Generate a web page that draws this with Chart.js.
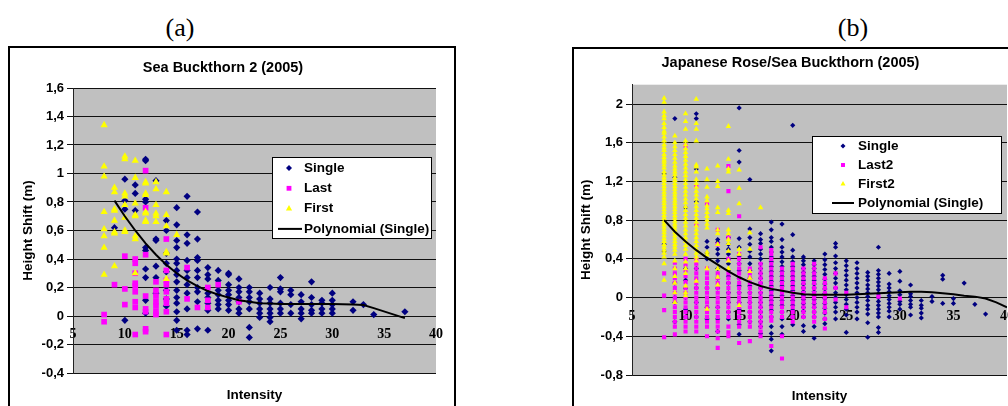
<!DOCTYPE html>
<html>
<head>
<meta charset="utf-8">
<script src="https://cdn.jsdelivr.net/npm/chart.js@4.4.1/dist/chart.umd.min.js"></script>
<style>
  html, body { margin: 0; padding: 0; background: #fff; overflow: hidden; width: 1008px; height: 406px; }
  .tag { position: absolute; top: 13px; width: 60px; text-align: center; font-family: "Liberation Serif", "Times New Roman", serif; font-size: 26px; line-height: 30px; color: #000; }
  .frame { position: absolute; border: 2px solid #000; box-sizing: border-box; }
  canvas { position: absolute; }
</style>
</head>
<body>
<div class="tag" style="left:150px">(a)</div>
<div class="tag" style="left:823px">(b)</div>
<div class="frame" style="left:8px; top:46px; width:448px; height:400px"></div>
<div class="frame" style="left:572px; top:47px; width:500px; height:400px"></div>
<canvas id="chartA" width="443" height="380" style="left:10px; top:48px"></canvas>
<canvas id="chartB" width="458" height="380" style="left:574px; top:49px"></canvas>
<script>
// ---- (a) Sea Buckthorn 2 (2005) ----
const singleAx = [9, 10, 11, 12, 13, 14, 15, 16, 17, 18, 19, 20, 21, 22, 23, 24, 25, 26, 27, 28, 29, 30, 32, 33, 34, 37];
const singleAy = [
  [0.62],
  [0.96, 0.81, 0.75, -0.03],
  [0.92, 0.86, 0.74],
  [1.10, 1.09, 0.82, 0.80, 0.48, 0.46, 0.33, 0.27, 0.11, 0.02],
  [0.95, 0.54, 0.53, 0.35, 0.27, 0.16],
  [0.67, 0.60, 0.44, 0.37, 0.31, 0.18, 0.12, 0.07],
  [0.76, 0.64, 0.53, 0.48, 0.40, 0.37, 0.32, 0.29, 0.24, 0.18, 0.13, 0.09, 0.03, -0.03, -0.10],
  [0.84, 0.57, 0.51, 0.39, 0.32, 0.27, 0.22, 0.16, 0.05, -0.10, -0.13],
  [0.73, 0.54, 0.41, 0.39, 0.32, 0.27, 0.20, 0.17, 0.10, -0.09],
  [0.34, 0.29, 0.26, 0.16, 0.13, 0.09, 0.04, -0.10],
  [0.32, 0.25, 0.18, 0.15, 0.11, 0.08, 0.05],
  [0.30, 0.29, 0.22, 0.18, 0.15, 0.11, 0.08, 0.04],
  [0.26, 0.20, 0.17, 0.13, 0.10, 0.05, 0.02],
  [0.20, 0.17, 0.13, 0.10, 0.05, -0.08, -0.15],
  [0.16, 0.12, 0.09, 0.05, 0.02, -0.01],
  [0.20, 0.12, 0.09, 0.05, 0.02, -0.01, -0.04],
  [0.27, 0.19, 0.17, 0.09, 0.05, 0.02],
  [0.18, 0.15, 0.08, 0.02],
  [0.15, 0.10, 0.05, 0.02, -0.02],
  [0.24, 0.13, 0.08, 0.04, 0.02],
  [0.11, 0.09, 0.05, 0.02],
  [0.16, 0.11, 0.08, 0.05, 0.02],
  [0.10, 0.04],
  [0.08],
  [0.01],
  [0.03]
];
const lastAx = [8, 9, 10, 11, 12, 13, 14, 16, 17, 18, 19, 21];
const lastAy = [
  [0.01, -0.04],
  [0.22],
  [0.42, 0.19, 0.08],
  [0.40, 0.37, 0.30, 0.23, 0.21, 0.17, 0.10, 0.06, -0.13],
  [1.02, 0.76, 0.43, 0.14, 0.05, 0.03, -0.09, -0.11],
  [0.24, 0.18, 0.14, 0.10, 0.07, 0.03, 0.01],
  [0.54, 0.32, 0.25, 0.22, 0.17, 0.12, 0.09, 0.03, -0.13],
  [0.34, 0.12],
  [0.06],
  [0.20, 0.11, 0.06],
  [0.22],
  [0.10]
];
const firstAx = [8, 9, 10, 11, 12, 13, 14, 15];
const firstAy = [
  [1.34, 1.05, 0.98, 0.73, 0.61, 0.56, 0.48, 0.29],
  [0.90, 0.87, 0.75, 0.74, 0.67, 0.59, 0.58, 0.35],
  [1.12, 1.10, 0.86, 0.84, 0.78, 0.69, 0.60, 0.59],
  [1.09, 0.97, 0.79, 0.71, 0.70, 0.56, 0.54, 0.30],
  [0.94, 0.93, 0.86, 0.85, 0.73, 0.72, 0.67, 0.66],
  [0.94, 0.89, 0.78, 0.72, 0.70, 0.66],
  [0.87, 0.71, 0.63, 0.45, 0.44, 0.26],
  [0.57]
];
const polyAx = [9, 10, 11, 12, 13, 14, 15, 16, 17, 18, 19, 20, 21, 22, 23, 24, 25, 26, 27, 28, 29, 30, 32, 33, 34, 37];
const polyAy = [0.81, 0.70, 0.60, 0.51, 0.43, 0.36, 0.30, 0.25, 0.21, 0.175, 0.15, 0.13, 0.11, 0.10, 0.09, 0.088, 0.085, 0.085, 0.085, 0.085, 0.085, 0.085, 0.08, 0.077, 0.055, -0.015];

// ---- (b) Japanese Rose/Sea Buckthorn (2005) ----
const singleBx = [8, 9, 10, 11, 12, 13, 14, 15, 16, 17, 18, 19, 20, 21, 22, 23, 24, 25, 26, 27, 28, 29, 30, 31, 32, 33, 34, 35, 36, 37, 38];
const singleBy = [
  [1.28, 0.55, 0.48],
  [1.85, 1.24, 0.15, 0.00, -0.05, -0.25],
  [0.93, 0.30, 0.18, 0.10, 0.00, -0.12, -0.20],
  [1.90, 1.85, 1.33, 0.99, 0.30, 0.10, -0.05, -0.20],
  [0.58, 0.52, 0.46, 0.40, 0.10, -0.10, -0.22],
  [0.60, 0.57, 0.50, 0.45, 0.38, 0.30, 0.20, 0.10, -0.10, -0.22, -0.35],
  [0.62, 0.55, 0.50, 0.45, 0.40, 0.35, 0.28, 0.22, 0.15, 0.05, -0.05, -0.15, -0.22],
  [1.96, 1.52, 1.40, 0.61, 0.52, 0.43, 0.35, 0.28, 0.20, 0.12, 0.05, -0.05, -0.12, -0.20, -0.28, -0.38],
  [1.22, 0.71, 0.62, 0.55, 0.48, 0.42, 0.35, 0.28, 0.20, 0.12, 0.05, -0.05, -0.15, -0.25],
  [0.66, 0.60, 0.56, 0.50, 0.45, 0.40, 0.35, 0.30, 0.25, 0.20, 0.15, 0.10, 0.05, 0.00, -0.05, -0.10, -0.15, -0.20, -0.25, -0.30, -0.37],
  [0.78, 0.70, 0.62, 0.58, 0.52, 0.47, 0.42, 0.37, 0.32, 0.27, 0.22, 0.17, 0.12, 0.07, 0.02, -0.03, -0.08, -0.13, -0.20, -0.30, -0.37, -0.43, -0.55],
  [0.76, 0.60, 0.52, 0.47, 0.42, 0.37, 0.32, 0.27, 0.22, 0.17, 0.12, 0.07, 0.02, -0.03, -0.08, -0.15, -0.22, -0.30, -0.38],
  [1.78, 0.65, 0.49, 0.42, 0.37, 0.32, 0.27, 0.22, 0.17, 0.12, 0.07, 0.02, -0.03, -0.08, -0.13, -0.20, -0.28],
  [0.42, 0.38, 0.34, 0.30, 0.26, 0.22, 0.18, 0.14, 0.10, 0.06, 0.02, -0.02, -0.06, -0.10, -0.14, -0.20, -0.29, -0.35],
  [0.38, 0.34, 0.30, 0.26, 0.22, 0.18, 0.14, 0.10, 0.06, 0.02, -0.02, -0.06, -0.10, -0.15, -0.20, -0.30, -0.42],
  [0.45, 0.39, 0.34, 0.29, 0.24, 0.19, 0.14, 0.09, 0.04, -0.01, -0.06, -0.11, -0.16, -0.22, -0.27],
  [0.56, 0.52, 0.43, 0.36, 0.30, 0.25, 0.20, 0.15, 0.10, 0.05, 0.00, -0.05, -0.10, -0.15, -0.22],
  [0.38, 0.33, 0.28, 0.23, 0.18, 0.13, 0.08, 0.03, -0.02, -0.07, -0.12, -0.18, -0.36],
  [0.36, 0.30, 0.25, 0.20, 0.15, 0.10, 0.05, 0.00, -0.05, -0.10, -0.15, -0.22],
  [0.26, 0.22, 0.18, 0.13, 0.09, 0.05, 0.01, -0.03, -0.08, -0.12, -0.17, -0.26, -0.41],
  [0.52, 0.28, 0.24, 0.20, 0.16, 0.12, 0.08, 0.04, 0.00, -0.04, -0.08, -0.12, -0.16, -0.20, -0.31, -0.36],
  [0.25, 0.14, 0.10, 0.06, 0.02, -0.02, -0.06, -0.10, -0.14, -0.20],
  [0.27, 0.17, 0.07, 0.03, -0.04, -0.07, -0.12],
  [0.13, 0.04, 0.01, -0.03, -0.07, -0.10, -0.18],
  [-0.03, -0.08, -0.11, -0.16, -0.21],
  [0.01, -0.04],
  [0.23, 0.19, -0.06],
  [-0.01, -0.06],
  [0.15],
  [-0.07],
  [-0.17]
];
const lastBx = [8, 9, 10, 11, 12, 13, 14, 15, 16, 17, 18, 19, 20, 21, 22, 23, 24, 25, 28, 30];
const lastBy = [
  [0.25, 0.02, -0.13, -0.41],
  [0.36, 0.30, 0.25, 0.20, 0.15, 0.10, 0.05, 0.00, -0.05, -0.10, -0.15, -0.20, -0.25, -0.30, -0.38],
  [1.57, 0.40, 0.34, 0.28, 0.22, 0.16, 0.10, 0.05, 0.00, -0.05, -0.10, -0.15, -0.20, -0.25, -0.30, -0.35],
  [1.15, 0.75, 0.40, 0.35, 0.30, 0.25, 0.20, 0.15, 0.10, 0.05, 0.00, -0.05, -0.10, -0.15, -0.20, -0.25, -0.30, -0.35],
  [0.97, 0.30, 0.25, 0.20, 0.15, 0.10, 0.05, 0.00, -0.05, -0.10, -0.15, -0.20, -0.25, -0.30, -0.40],
  [0.70, 0.55, 0.25, 0.20, 0.15, 0.10, 0.05, 0.00, -0.05, -0.10, -0.15, -0.20, -0.25, -0.30, -0.35, -0.42, -0.52],
  [1.36, 1.10, 0.62, 0.40, 0.25, 0.20, 0.15, 0.10, 0.05, 0.00, -0.05, -0.10, -0.15, -0.20, -0.30, -0.36, -0.40],
  [0.84, 0.45, 0.40, 0.35, 0.30, 0.25, 0.20, 0.15, 0.10, 0.05, 0.00, -0.05, -0.10, -0.15, -0.20, -0.25, -0.30, -0.47],
  [0.30, 0.25, 0.20, 0.15, 0.10, 0.05, 0.00, -0.05, -0.10, -0.15, -0.20, -0.25, -0.30, -0.45],
  [0.52, 0.35, 0.30, 0.25, 0.20, 0.15, 0.10, 0.05, 0.00, -0.05, -0.10, -0.15, -0.20, -0.25, -0.30, -0.35, -0.40],
  [0.49, 0.45, 0.40, 0.35, 0.30, 0.25, 0.20, 0.15, 0.10, 0.05, 0.00, -0.05, -0.10, -0.15, -0.20, -0.24, -0.50],
  [0.30, 0.25, 0.20, 0.15, 0.10, 0.05, 0.00, -0.05, -0.10, -0.15, -0.20, -0.40, -0.63],
  [0.35, 0.30, 0.25, 0.20, 0.15, 0.10, 0.05, 0.00, -0.05, -0.10, -0.15, -0.20, -0.25],
  [0.30, 0.25, 0.20, 0.15, 0.10, 0.05, 0.00, -0.05, -0.10, -0.15, -0.20],
  [0.35, 0.30, 0.25, 0.20, 0.15, 0.10, 0.05, 0.00, -0.05, -0.10, -0.15, -0.20, -0.25],
  [0.20, 0.15, 0.10, 0.05, 0.00, -0.05, -0.10, -0.15, -0.22, -0.32],
  [0.25, 0.10, -0.02],
  [0.05, -0.10],
  [0.01],
  [-0.01]
];
const firstBx = [8, 9, 10, 11, 12, 13, 14, 15, 16, 17];
const firstBy = [
  [2.06, 2.02, 1.92, 1.88, 1.85, 1.80, 1.76, 1.72, 1.70, 1.66, 1.62, 1.58, 1.55, 1.52, 1.48, 1.45, 1.42, 1.40, 1.37, 1.34, 1.30, 1.27, 1.24, 1.21, 1.18, 1.15, 1.12, 1.09, 1.06, 1.03, 1.00, 0.97, 0.94, 0.91, 0.88, 0.85, 0.82, 0.79, 0.76, 0.73, 0.70, 0.67, 0.64, 0.61, 0.58, 0.55, 0.52, 0.49, 0.46, 0.42, 0.35, 0.18],
  [1.67, 1.60, 1.56, 1.52, 1.48, 1.44, 1.40, 1.36, 1.33, 1.30, 1.27, 1.24, 1.21, 1.18, 1.15, 1.12, 1.09, 1.06, 1.03, 1.00, 0.97, 0.94, 0.91, 0.88, 0.85, 0.82, 0.79, 0.76, 0.73, 0.70, 0.67, 0.64, 0.61, 0.58, 0.55, 0.52, 0.49, 0.45, 0.38, 0.30, 0.22, 0.15, 0.05, -0.05],
  [1.90, 1.82, 1.74, 1.62, 1.58, 1.54, 1.50, 1.46, 1.42, 1.38, 1.34, 1.30, 1.26, 1.22, 1.18, 1.14, 1.10, 1.06, 1.02, 0.98, 0.94, 0.90, 0.86, 0.82, 0.78, 0.74, 0.70, 0.66, 0.62, 0.58, 0.54, 0.50, 0.45, 0.37, 0.30, 0.25, 0.12, 0.05, 0.02],
  [2.05, 1.80, 1.74, 1.62, 1.37, 1.35, 1.30, 1.22, 1.18, 1.14, 1.10, 1.06, 1.02, 0.98, 0.94, 0.90, 0.86, 0.82, 0.78, 0.74, 0.70, 0.66, 0.62, 0.58, 0.54, 0.50, 0.46, 0.42, 0.38, 0.17],
  [1.33, 1.22, 1.14, 1.04, 1.00, 0.95, 0.92, 0.88, 0.84, 0.80, 0.76, 0.72, 0.47, 0.44, 0.30, -0.12],
  [1.36, 1.20, 1.15, 0.93, 0.88, 0.70, 0.66, 0.55, 0.30, 0.21, 0.13],
  [1.77, 1.43, 1.33, 1.30, 0.90, 0.87, 0.70, 0.66, 0.60, 0.56, 0.48, 0.38, 0.30],
  [1.32, 1.13, 0.97, 0.50, 0.45, -0.08],
  [0.67, 0.50, 0.27, 0.20],
  [0.93]
];
const polyBx = [8, 9, 10, 11, 12, 13, 14, 15, 16, 17, 18, 19, 20, 21, 22, 23, 24, 25, 26, 27, 28, 29, 30, 31, 32, 33, 34, 35, 36, 37, 38, 39, 40];
const polyBy = [0.80, 0.68, 0.58, 0.49, 0.41, 0.34, 0.27, 0.21, 0.16, 0.12, 0.09, 0.07, 0.05, 0.035, 0.03, 0.03, 0.03, 0.03, 0.035, 0.04, 0.045, 0.05, 0.055, 0.06, 0.06, 0.055, 0.045, 0.035, 0.02, 0.01, -0.01, -0.05, -0.10];

const navy = '#000080', magenta = '#ff00ff', yellow = '#ffff00';
const sans = '"Liberation Sans", Arial, sans-serif';
const serif = '"Liberation Serif", "Times New Roman", serif';
Chart.defaults.color = '#000';

function columns(xs, ys) {
  const pts = [];
  xs.forEach((x, i) => ys[i].forEach(y => pts.push({ x, y })));
  return pts;
}
function pairs(xs, ys) {
  return xs.map((x, i) => ({ x, y: ys[i] }));
}
const fmtComma = v => String(Math.round(v * 10) / 10).replace('.', ',');

// grey plot area like the old Excel charts
const plotBg = {
  id: 'plotBg',
  beforeDraw(chart) {
    const { ctx, chartArea: a } = chart;
    ctx.save();
    ctx.fillStyle = '#c0c0c0';
    ctx.fillRect(a.left, a.top, a.width, a.height);
    ctx.restore();
  }
};

// white legend box sitting inside the plot area
const boxLegend = {
  id: 'boxLegend',
  afterDatasetsDraw(chart, args, o) {
    const { ctx, chartArea: a } = chart;
    const x0 = Math.round(a.left + o.box[0] * a.width), y0 = Math.round(a.top + o.box[1] * a.height);
    const x1 = Math.round(a.left + o.box[2] * a.width), y1 = Math.round(a.top + o.box[3] * a.height);
    ctx.save();
    ctx.fillStyle = '#fff';
    ctx.fillRect(x0, y0, x1 - x0, y1 - y0);
    ctx.strokeStyle = '#000';
    ctx.lineWidth = 1;
    ctx.strokeRect(x0 + 0.5, y0 + 0.5, x1 - x0 - 1, y1 - y0 - 1);
    ctx.font = 'bold ' + o.fontSize + 'px ' + sans;
    ctx.textBaseline = 'middle';
    ctx.textAlign = 'left';
    chart.data.datasets.forEach((ds, i) => {
      const y = y0 + o.rowTop + i * o.rowGap;
      if (ds.showLine) {
        ctx.strokeStyle = '#000';
        ctx.lineWidth = 2;
        ctx.beginPath();
        ctx.moveTo(x0 + o.lineX[0], y);
        ctx.lineTo(x0 + o.lineX[1], y);
        ctx.stroke();
      } else {
        ctx.fillStyle = ds.backgroundColor;
        Chart.helpers.drawPoint(ctx, { pointStyle: ds.pointStyle, radius: o.markR[i], rotation: 0, borderWidth: 0 }, x0 + o.markX, y);
      }
      ctx.fillStyle = '#000';
      ctx.fillText(ds.label, x0 + o.textX, y);
    });
    ctx.restore();
  }
};

function makeChart(id, s) {
  return new Chart(document.getElementById(id), {
    type: 'scatter',
    data: {
      datasets: [
        { label: 'Single', data: s.single, pointStyle: 'rectRot', pointRadius: s.r[0], backgroundColor: navy, borderColor: navy, pointBorderWidth: 0, order: 3 },
        { label: s.lastLabel, data: s.last, pointStyle: 'rect', pointRadius: s.r[1], backgroundColor: magenta, borderColor: magenta, pointBorderWidth: 0, order: 2 },
        { label: s.firstLabel, data: s.first, pointStyle: 'triangle', pointRadius: s.r[2], backgroundColor: yellow, borderColor: yellow, pointBorderWidth: 0, order: 1 },
        { label: 'Polynomial (Single)', data: s.poly, showLine: true, borderColor: '#000', backgroundColor: '#000', borderWidth: 2, pointRadius: 0, tension: 0, order: 0 }
      ]
    },
    options: {
      responsive: false,
      animation: false,
      devicePixelRatio: 1,
      layout: { padding: s.pad },
      scales: {
        x: {
          type: 'linear',
          position: { y: 0 },
          min: 5, max: 40,
          afterFit(sc) { sc.height = 0; },
          grid: { display: false, drawTicks: false, tickLength: 0 },
          border: { display: false },
          ticks: { stepSize: 5, padding: s.xPad, font: { family: serif, size: 14, weight: 'bold' }, color: '#000', maxRotation: 0 }
        },
        y: {
          min: s.yMin, max: s.yMax,
          afterFit(sc) { sc.width = s.yWidth; },
          grid: { color: '#111', lineWidth: 1, tickLength: 6, drawTicks: true },
          border: { display: true, color: '#222', width: 1 },
          ticks: { stepSize: s.yStep, includeBounds: false, padding: 3, callback: fmtComma, font: { family: sans, size: 13, weight: 'bold' }, color: '#000' },
          title: { display: true, text: 'Height Shift (m)', padding: { top: s.yTitlePad, bottom: 0 }, font: { family: sans, size: 13.5, weight: 'bold' }, color: '#000' }
        }
      },
      plugins: {
        legend: { display: false },
        tooltip: { enabled: false },
        subtitle: { display: true, text: s.title, position: 'top', padding: s.titlePad, font: { family: sans, size: 14.5, weight: 'bold' }, color: '#000' },
        title: { display: true, text: 'Intensity', position: 'bottom', fullSize: false, padding: { top: s.xTitlePad, bottom: 10 }, font: { family: sans, size: 13.5, weight: 'bold' }, color: '#000' },
        boxLegend: s.legend
      }
    },
    plugins: [plotBg, boxLegend]
  });
}

makeChart('chartA', {
  title: 'Sea Buckthorn 2 (2005)',
  lastLabel: 'Last', firstLabel: 'First',
  single: columns(singleAx, singleAy), last: columns(lastAx, lastAy), first: columns(firstAx, firstAy), poly: pairs(polyAx, polyAy),
  r: [3.6, 4, 4.2],
  yMin: -0.4, yMax: 1.6, yStep: 0.2, yWidth: 63, yTitlePad: 10,
  pad: { left: 0, right: 17, top: 0, bottom: 14.8 },
  titlePad: { top: 11, bottom: 11.6 },
  xTitlePad: 14, xPad: 10,
  legend: { box: [0.548, 0.242, 0.989, 0.53], rowTop: 11, rowGap: 20.3, markX: 17, lineX: [6, 30], textX: 32, fontSize: 13.5, markR: [3, 3.4, 3.6] }
});

makeChart('chartB', {
  title: 'Japanese Rose/Sea Buckthorn (2005)',
  lastLabel: 'Last2', firstLabel: 'First2',
  single: columns(singleBx, singleBy), last: columns(lastBx, lastBy), first: columns(firstBx, firstBy), poly: pairs(polyBx, polyBy),
  r: [2.6, 2.9, 3.2],
  yMin: -0.8, yMax: 2.2, yStep: 0.4, yWidth: 58, yTitlePad: 4,
  pad: { left: 0, right: 25, top: 0, bottom: 14.8 },
  titlePad: { top: 5.3, bottom: 13 },
  xTitlePad: 13, xPad: 10,
  legend: { box: [0.48, 0.177, 0.987, 0.447], rowTop: 10, rowGap: 19, markX: 31, lineX: [20, 42], textX: 46, fontSize: 13.5, markR: [2.5, 2.8, 2.9] }
});
</script>
</body>
</html>
